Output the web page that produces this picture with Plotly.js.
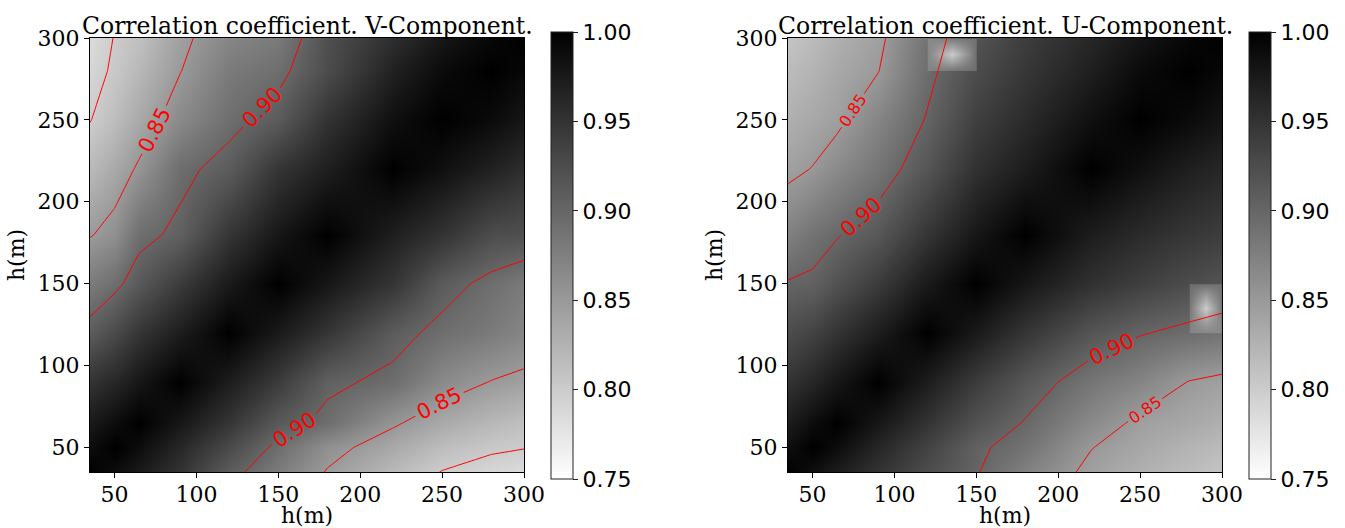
<!DOCTYPE html>
<html>
<head>
<meta charset="utf-8">
<script src="https://cdn.plot.ly/plotly-3.0.1.min.js"></script>
<style>html,body{margin:0;padding:0;background:#ffffff;}</style>
</head>
<body>
<div id="chart" style="width:1345px;height:528px;"></div>
<script>
// ---- data ----
const heights = [35, 50, 65, 90, 120, 150, 180, 220, 250, 280, 300];
const axisTicks = [50, 100, 150, 200, 250, 300];
const colorbarTicks = [0.75, 0.80, 0.85, 0.90, 0.95, 1.00];
const contourLevelsV = [0.80, 0.85, 0.90];
const contourLevelsU = [0.85, 0.90];
const panelTitles = ['Correlation coefficient. V-Component.', 'Correlation coefficient. U-Component.'];
const axisLabel = 'h(m)';

// rows = y height, columns = x height
const corrV = [
  [1, .988, .975, .95, .91, .879, .848, .818, .799, .79, .785],
  [.988, 1, .988, .962, .928, .893, .86, .835, .815, .804, .801],
  [.975, .988, 1, .978, .948, .913, .892, .854, .834, .82, .812],
  [.95, .962, .978, 1, .972, .942, .906, .893, .865, .849, .843],
  [.91, .928, .948, .972, 1, .975, .948, .91, .892, .88, .869],
  [.879, .893, .913, .942, .975, 1, .978, .948, .911, .892, .88],
  [.848, .86, .892, .906, .948, .978, 1, .97, .95, .925, .922],
  [.818, .835, .854, .893, .91, .948, .97, 1, .985, .968, .955],
  [.799, .815, .834, .865, .892, .911, .95, .985, 1, .99, .978],
  [.79, .804, .82, .849, .88, .892, .925, .968, .99, 1, .993],
  [.785, .801, .812, .843, .869, .88, .922, .955, .978, .993, 1]
];
const corrU = [
  [1, .986, .972, .95, .925, .902, .874, .843, .828, .816, .808],
  [.986, 1, .988, .963, .935, .905, .888, .851, .836, .824, .817],
  [.972, .988, 1, .978, .95, .92, .898, .865, .844, .835, .828],
  [.95, .963, .978, 1, .972, .942, .915, .885, .87, .849, .843],
  [.925, .935, .95, .972, 1, .975, .948, .917, .902, .893, .888],
  [.902, .905, .92, .942, .975, 1, .978, .952, .938, .925, .918],
  [.874, .888, .898, .915, .948, .978, 1, .972, .958, .946, .94],
  [.843, .851, .865, .885, .917, .952, .972, 1, .985, .97, .962],
  [.828, .836, .844, .87, .902, .938, .958, .985, 1, .99, .98],
  [.816, .824, .835, .849, .893, .925, .946, .97, .99, 1, .993],
  [.808, .817, .828, .843, .888, .918, .94, .962, .98, .993, 1]
];
// isolated low-correlation spots visible in the U image (centre height pair and value)
const uSpotX = [135, 290];
const uSpotY = [290, 135];
const uSpotR = [0.80, 0.80];

// ---- layout geometry ----
const W = 1345, H = 528;
const M = {l: 90, r: 123, t: 38, b: 56};
const pw = W - M.l - M.r, ph = H - M.t - M.b;
const dom1 = [0, (524 - 90) / pw];
const dom2 = [(788 - 90) / pw, 1];
const ZMIN = 0.75, ZMAX = 1.0;
const grayScale = [[0, '#ffffff'], [1, '#000000']];
const STEP = 0.05;

function colorbarAt(xpx) {
  return {
    x: (xpx - M.l) / pw, xanchor: 'left', xpad: 0,
    y: (M.t + ph - 255.5) / ph, yanchor: 'middle', ypad: 0,
    len: 447, lenmode: 'pixels', thickness: 22, thicknessmode: 'pixels',
    outlinewidth: 1, outlinecolor: '#222',
    tickvals: colorbarTicks, tickformat: '.2f',
    ticks: 'outside', ticklen: 5, tickwidth: 1, tickcolor: '#222',
    tickfont: {family: 'DejaVu Sans', size: 22, color: '#000'}
  };
}

function heat(z, xa, ya, cbx) {
  return {type: 'heatmap', x: heights, y: heights, z: z, zmin: ZMIN, zmax: ZMAX,
    colorscale: grayScale, zsmooth: 'best', xaxis: xa, yaxis: ya,
    colorbar: colorbarAt(cbx), hoverinfo: 'skip'};
}
function contour(z, xa, ya, lo, hi, fontSize) {
  return {type: 'contour', x: heights, y: heights, z: z, xaxis: xa, yaxis: ya,
    showscale: false, hoverinfo: 'skip',
    contours: {coloring: 'none', start: lo, end: hi, size: STEP,
               showlabels: true, labelformat: '.2f',
               labelfont: {family: 'DejaVu Sans', size: fontSize, color: 'red'}},
    line: {color: 'red', width: 1, smoothing: 0}};
}

function neighbours(v) {
  let lo = heights[0], hi = heights[heights.length - 1];
  heights.forEach(h => { if (h < v && h > lo) lo = h; if (h > v && h < hi) hi = h; });
  return [lo, v, hi];
}

// spot overlay: light square over one grid cell, brightest at its centre
const RING = 0.26;
const spotTraces = uSpotX.map((sx, k) => {
  const g = Math.round(255 * (ZMAX - uSpotR[k]) / (ZMAX - ZMIN));
  const [x0, xc, x1] = neighbours(sx);
  const [y0, yc, y1] = neighbours(uSpotY[k]);
  const xs = [x0, x0 + 0.6, xc, x1 - 0.6, x1];
  const ys = [y0, y0 + 0.6, yc, y1 - 0.6, y1];
  const w = ys.map((_, j) => xs.map((__, i) => {
    if (i === 0 || j === 0 || i === 4 || j === 4) return 0;
    if (i === 2 && j === 2) return 1;
    return RING;
  }));
  return {
    type: 'heatmap', x: xs, y: ys, z: w, zmin: 0, zmax: 1, zsmooth: 'best',
    colorscale: [[0, `rgba(${g},${g},${g},0)`], [1, `rgba(${g},${g},${g},1)`]],
    showscale: false, hoverinfo: 'skip', xaxis: 'x2', yaxis: 'y2'
  };
});

const lv = contourLevelsV, lu = contourLevelsU;
const data = [
  heat(corrV, 'x', 'y', 551),
  contour(corrV, 'x', 'y', lv[0], lv[lv.length - 1], 21),
  heat(corrU, 'x2', 'y2', 1249)
].concat(spotTraces, [
  contour(corrU, 'x2', 'y2', lu[1], lu[1], 21),
  contour(corrU, 'x2', 'y2', lu[0], lu[0], 16)
]);

function xAxis(dom, anchor) {
  return {domain: dom, anchor: anchor, range: [35, 300], tickvals: axisTicks,
    ticks: 'outside', ticklen: 5, tickwidth: 1, tickcolor: '#000',
    showline: true, mirror: true, linecolor: '#000', linewidth: 1,
    showgrid: false, zeroline: false, automargin: false,
    ticklabelstandoff: -2,
    tickfont: {family: 'DejaVu Serif', size: 22, color: '#000'},
    title: {text: axisLabel, font: {family: 'DejaVu Serif', size: 22, color: '#000'}, standoff: 1}};
}
function yAxis(anchor) {
  const a = xAxis([0, 1], anchor);
  a.ticklabelstandoff = 0;
  a.title = {text: axisLabel, font: {family: 'DejaVu Serif', size: 22, color: '#000'}, standoff: 6};
  return a;
}

const layout = {
  width: W, height: H, margin: M,
  paper_bgcolor: '#ffffff', plot_bgcolor: '#ffffff',
  font: {family: 'DejaVu Serif', size: 22, color: '#000'},
  showlegend: false,
  xaxis: xAxis(dom1, 'y'), yaxis: yAxis('x'),
  xaxis2: xAxis(dom2, 'y2'), yaxis2: yAxis('x2'),
  annotations: panelTitles.map((t, i) => ({
    text: t, xref: 'paper', yref: 'paper',
    x: i === 0 ? (dom1[0] + dom1[1]) / 2 : (dom2[0] + dom2[1]) / 2,
    y: 1, xanchor: 'center', yanchor: 'bottom', showarrow: false, yshift: -4,
    font: {family: 'DejaVu Serif', size: 23.5, color: '#000'}
  }))
};

Plotly.newPlot('chart', data, layout, {staticPlot: true, displayModeBar: false});
</script>
</body>
</html>
